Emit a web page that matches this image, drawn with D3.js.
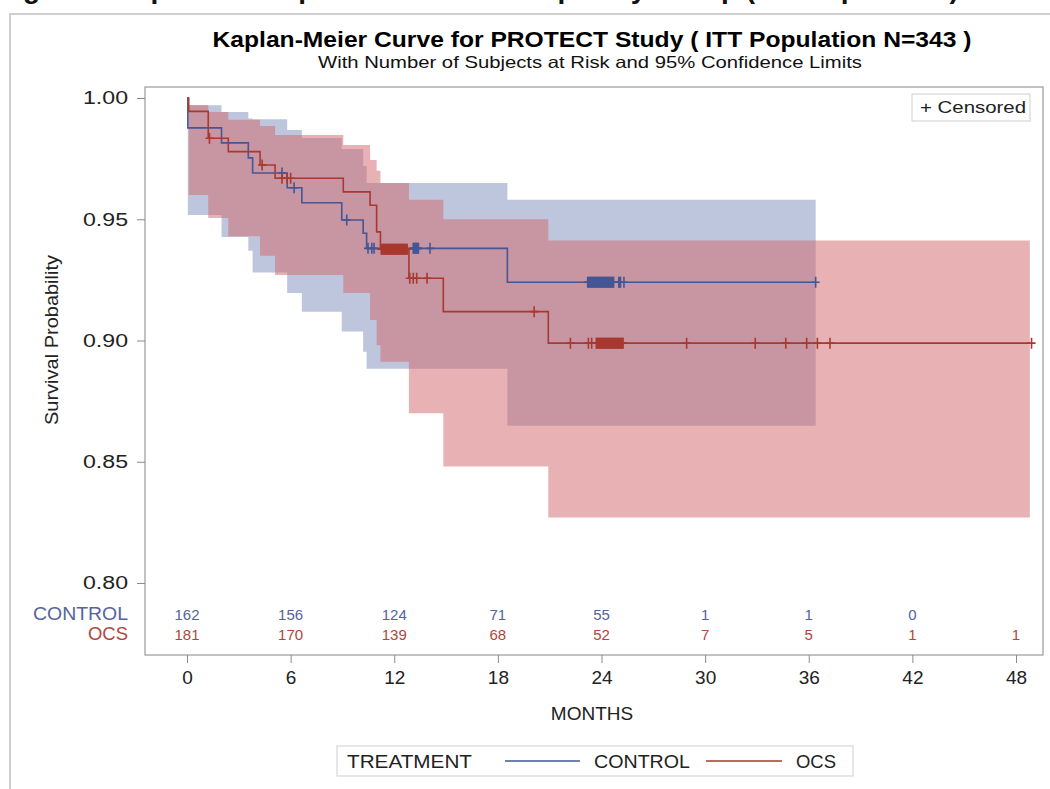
<!DOCTYPE html>
<html>
<head>
<meta charset="utf-8">
<script src="https://cdn.jsdelivr.net/npm/d3@7"></script>
<style>
  html, body { margin: 0; padding: 0; background: #fff; }
  svg text { font-family: "Liberation Sans", Arial, sans-serif; }
</style>
</head>
<body>
<div id="chart"></div>
<script>
// ---------------- DATA ----------------
const groups = ["CONTROL", "OCS"];
const xTicks = [0, 6, 12, 18, 24, 30, 36, 42, 48];
const yTicks = [0.80, 0.85, 0.90, 0.95, 1.00];
const yTickLabels = ["0.80", "0.85", "0.90", "0.95", "1.00"];

// CONTROL Kaplan-Meier step function + 95% CI
const controlTimes = [0, 0.05, 2.0, 3.55, 3.8, 5.8, 6.65, 8.96, 10.2, 10.4, 18.55, 36.4];
const controlSurv  = [1.0, 0.9877, 0.9815, 0.9753, 0.9691, 0.963, 0.9568, 0.9497, 0.9442, 0.938, 0.924, 0.924];
const controlUpper = [1.0, 0.997, 0.9942, 0.9915, 0.9912, 0.9868, 0.9835, 0.979, 0.972, 0.965, 0.958, 0.958];
const controlLower = [1.0, 0.9518, 0.9427, 0.937, 0.928, 0.9196, 0.9119, 0.9037, 0.8954, 0.8883, 0.8648, 0.8648];
const controlCensor = [5.5, 6.2, 9.25, 10.48, 10.7, 10.83, 13.1, 13.15, 13.2, 13.25, 13.3, 13.35, 13.4, 14.07,
  23.2, 23.25, 23.3, 23.35, 23.4, 23.45, 23.5, 23.55, 23.6, 23.65, 23.7, 23.75, 23.8, 23.85, 23.9, 23.95,
  24.0, 24.05, 24.1, 24.15, 24.2, 24.25, 24.3, 24.35, 24.4, 24.45, 24.5, 24.55, 24.6, 24.65, 24.7,
  25.0, 25.05, 25.1, 25.3, 36.4];

// OCS Kaplan-Meier step function + 95% CI
const ocsTimes = [0, 0.1, 1.23, 2.39, 4.23, 5.1, 9.05, 10.6, 10.98, 11.2, 12.85, 14.84, 20.92, 48.8];
const ocsSurv  = [1.0, 0.9945, 0.9834, 0.9779, 0.9724, 0.9669, 0.9613, 0.9558, 0.9448, 0.9376, 0.9257, 0.9119, 0.8989, 0.8989];
const ocsUpper = [1.0, 0.9971, 0.9942, 0.991, 0.9885, 0.9847, 0.9806, 0.9744, 0.970, 0.965, 0.958, 0.950, 0.9412, 0.9412];
const ocsLower = [1.0, 0.960, 0.9505, 0.943, 0.935, 0.927, 0.9196, 0.9085, 0.898, 0.8912, 0.870, 0.848, 0.827, 0.827];
const ocsCensor = [1.3, 4.35, 5.5, 5.8, 6.0,
  11.25, 11.3, 11.35, 11.4, 11.45, 11.5, 11.55, 11.6, 11.65, 11.7, 11.75, 11.8, 11.85, 11.9, 11.95, 12.0,
  12.05, 12.1, 12.15, 12.2, 12.25, 12.3, 12.35, 12.4, 12.45, 12.5, 12.55, 12.6, 12.65, 12.7, 12.75,
  12.9, 13.1, 13.3, 13.9, 20.1, 22.2, 23.24, 23.43,
  23.7, 23.75, 23.8, 23.85, 23.9, 23.95, 24.0, 24.05, 24.1, 24.15, 24.2, 24.25, 24.3, 24.35, 24.4, 24.45,
  24.5, 24.55, 24.6, 24.65, 24.7, 24.75, 24.8, 24.85, 24.9, 24.95, 25.0, 25.05, 25.1, 25.15, 25.2, 25.25,
  28.93, 32.9, 34.67, 35.88, 36.5, 37.23, 48.9];

// Number of subjects at risk
const atRiskControl = [162, 156, 124, 71, 55, 1, 1, 0, null];
const atRiskOcs     = [181, 170, 139, 68, 52, 7, 5, 1, 1];

// ---------------- STYLE ----------------
const W = 1050, H = 789;
const colBlue = "#445694", colRed = "#a8392f";
const fillBlue = "rgb(125,141,189)", fillRed = "rgb(209,100,104)";
const txtBlue = "#5563a0", txtRed = "#b0463c";

const svg = d3.select("#chart").append("svg")
  .attr("width", W).attr("height", H);

// outer page frame
svg.append("path").attr("d", "M10,789 V14 H1050")
  .attr("fill", "none").attr("stroke", "#cfcfcf").attr("stroke-width", 2);

// page header, clipped by the top edge as in the scan (only descenders visible)
svg.append("text").attr("x", -2).attr("y", -2.5)
  .attr("font-family", "Liberation Serif, Times New Roman, serif")
  .attr("font-weight", "bold").attr("font-size", 28).attr("fill", "#111")
  .text("Figure 2   Kaplan-Meier plot of Time to Relapse by Group (ITT Population)");

const x = d3.scaleLinear().domain([0, 48]).range([187, 1016]);
const y = d3.scaleLinear().domain([0.80, 1.00]).range([583, 98]);

const frame = { l: 145, r: 1043, t: 87, b: 655 };

// titles
svg.append("text").attr("x", 592).attr("y", 47).attr("text-anchor", "middle")
  .attr("font-weight", "bold").attr("font-size", 22.5).attr("fill", "#000")
  .attr("textLength", 759).attr("lengthAdjust", "spacingAndGlyphs")
  .text("Kaplan-Meier Curve for PROTECT Study ( ITT Population N=343 )");
svg.append("text").attr("x", 590).attr("y", 68).attr("text-anchor", "middle")
  .attr("font-size", 16.5).attr("fill", "#111")
  .attr("textLength", 544).attr("lengthAdjust", "spacingAndGlyphs")
  .text("With Number of Subjects at Risk and 95% Confidence Limits");

// bands
const zip = (t, s, u, l) => t.map((v, i) => ({ t: v, s: s[i], u: u[i], l: l[i] }));
const ctrl = zip(controlTimes, controlSurv, controlUpper, controlLower);
const ocs = zip(ocsTimes, ocsSurv, ocsUpper, ocsLower);

const area = d3.area().curve(d3.curveStepAfter)
  .x(d => x(d.t)).y0(d => y(d.l)).y1(d => y(d.u));
const line = d3.line().curve(d3.curveStepAfter)
  .x(d => x(d.t)).y(d => y(d.s));

const plot = svg.append("g");
plot.append("path").datum(ctrl).attr("d", area).attr("fill", fillBlue).attr("fill-opacity", 0.5);
plot.append("path").datum(ocs).attr("d", area).attr("fill", fillRed).attr("fill-opacity", 0.5);

plot.append("path").datum(ctrl).attr("d", line).attr("fill", "none")
  .attr("stroke", colBlue).attr("stroke-width", 1.6);
plot.append("path").datum(ocs).attr("d", line).attr("fill", "none")
  .attr("stroke", colRed).attr("stroke-width", 1.6);

// censor marks
function survAt(data, t) {
  let s = data[0].s;
  for (const d of data) { if (d.t <= t) s = d.s; }
  return s;
}
function drawCensor(times, data, col) {
  plot.append("g").selectAll("path").data(times).join("path")
    .attr("d", t => {
      const px = x(t), py = y(survAt(data, t));
      return `M${px},${py - 5.5}V${py + 5.5}M${px - 4},${py}H${px + 4}`;
    })
    .attr("stroke", col).attr("stroke-width", 1.6).attr("fill", "none");
}
drawCensor(controlCensor, ctrl, colBlue);
drawCensor(ocsCensor, ocs, colRed);

// frame
svg.append("rect").attr("x", frame.l).attr("y", frame.t)
  .attr("width", frame.r - frame.l).attr("height", frame.b - frame.t)
  .attr("fill", "none").attr("stroke", "#9a9a9a").attr("stroke-width", 1.2);

// y axis
const yAxis = d3.axisLeft(y).tickValues(yTicks).tickSize(8).tickPadding(9)
  .tickFormat((d, i) => yTickLabels[i]);
const gy = svg.append("g").attr("transform", `translate(${frame.l},0)`).call(yAxis);
gy.select(".domain").remove();
gy.selectAll(".tick line").attr("stroke", "#8a8a8a");
gy.selectAll(".tick text").attr("font-size", 18).attr("fill", "#222")
  .attr("font-family", "Liberation Sans, Arial, sans-serif")
  .attr("textLength", 45).attr("lengthAdjust", "spacingAndGlyphs");

svg.append("text").attr("transform", "translate(58,340) rotate(-90)")
  .attr("text-anchor", "middle").attr("font-size", 18).attr("fill", "#222")
  .attr("textLength", 170).attr("lengthAdjust", "spacingAndGlyphs")
  .text("Survival Probability");

// x axis
const xAxis = d3.axisBottom(x).tickValues(xTicks).tickSize(8).tickPadding(8);
const gx = svg.append("g").attr("transform", `translate(0,${frame.b})`).call(xAxis);
gx.select(".domain").remove();
gx.selectAll(".tick line").attr("stroke", "#8a8a8a");
gx.selectAll(".tick text").attr("font-size", 19).attr("fill", "#222")
  .attr("font-family", "Liberation Sans, Arial, sans-serif");

svg.append("text").attr("x", 592).attr("y", 720).attr("text-anchor", "middle")
  .attr("font-size", 19).attr("fill", "#222").text("MONTHS");

// at-risk table
const riskRows = [
  { name: groups[0], vals: atRiskControl, col: txtBlue, yy: 620, len: 95 },
  { name: groups[1], vals: atRiskOcs, col: txtRed, yy: 640, len: 40 }
];
riskRows.forEach(r => {
  svg.append("text").attr("x", 128).attr("y", r.yy).attr("text-anchor", "end")
    .attr("font-size", 18).attr("fill", r.col)
    .attr("textLength", r.len).attr("lengthAdjust", "spacingAndGlyphs").text(r.name);
  svg.append("g").selectAll("text").data(xTicks.map((t, i) => ({ t, v: r.vals[i] })).filter(d => d.v !== null))
    .join("text").attr("x", d => x(d.t)).attr("y", r.yy).attr("text-anchor", "middle")
    .attr("font-size", 15).attr("fill", r.col).text(d => d.v);
});

// censored legend (inset)
svg.append("rect").attr("x", 912).attr("y", 94).attr("width", 118).attr("height", 27)
  .attr("fill", "#fff").attr("stroke", "#cfcfcf");
svg.append("text").attr("x", 920).attr("y", 113).attr("font-size", 17).attr("fill", "#222")
  .attr("textLength", 106).attr("lengthAdjust", "spacingAndGlyphs").text("+ Censored");

// bottom legend
const lg = svg.append("g");
lg.append("rect").attr("x", 337).attr("y", 746).attr("width", 516).attr("height", 30)
  .attr("fill", "#fff").attr("stroke", "#cfcfcf");
lg.append("text").attr("x", 347).attr("y", 768).attr("font-size", 19).attr("fill", "#222")
  .attr("textLength", 125).attr("lengthAdjust", "spacingAndGlyphs").text("TREATMENT");
const legItems = [
  { name: groups[0], col: colBlue, x1: 505, x2: 580, tx: 594, len: 96 },
  { name: groups[1], col: colRed, x1: 706, x2: 782, tx: 796, len: 40 }
];
legItems.forEach(d => {
  lg.append("line").attr("x1", d.x1).attr("x2", d.x2).attr("y1", 761).attr("y2", 761)
    .attr("stroke", d.col).attr("stroke-width", 1.5);
  lg.append("text").attr("x", d.tx).attr("y", 768).attr("font-size", 19).attr("fill", "#222")
    .attr("textLength", d.len).attr("lengthAdjust", "spacingAndGlyphs").text(d.name);
});
</script>
</body>
</html>
